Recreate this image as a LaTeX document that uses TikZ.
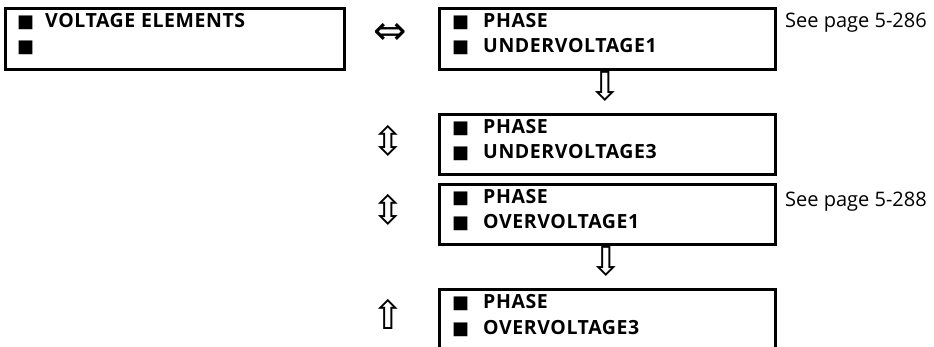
\documentclass[tikz,border=0pt]{standalone}
\usepackage{fontspec}
\setmainfont{Open Sans}
\newfontfamily\menufont[LetterSpace=3]{Open Sans}
\newfontfamily\symfont{DejaVu Sans}
\tikzset{
  menubox/.style={draw, line width=2.6pt, inner sep=0pt, anchor=north west},
  menutext/.style={anchor=base west, inner sep=0pt, align=left,
    font={\menufont\bfseries\fontsize{19.5}{25}\selectfont}},
  sq/.style={anchor=base west, inner sep=0pt, align=left,
    font={\symfont\fontsize{18}{25}\selectfont}},
  arrowsym/.style={inner sep=0pt, font={\symfont\fontsize{40}{40}\selectfont}},
  pageref/.style={anchor=base west, inner sep=0pt, font={\fontsize{20}{24}\selectfont}}
}
\begin{document}
\begin{tikzpicture}[x=1pt,y=-1pt]
\useasboundingbox (0,0) rectangle (934,347);
\clip (0,0) rectangle (934,347);
% boxes
\node[menubox, minimum width=339pt, minimum height=61pt] (b1) at (4,7) {};
\node[menubox, minimum width=336pt, minimum height=61pt] (b2) at (438,7) {};
\node[menubox, minimum width=336pt, minimum height=60pt] (b3) at (438,113) {};
\node[menubox, minimum width=336pt, minimum height=60pt] (b4) at (438,183) {};
\node[menubox, minimum width=336pt, minimum height=80pt] (b5) at (438,288) {};
% squares (anchor is the baseline of the last line)
\node[sq] (s1) at (17,53) {■\\■};
\node[sq] (s2) at (452,53) {■\\■};
\node[sq] (s3) at (452,159) {■\\■};
\node[sq] (s4) at (452,229) {■\\■};
\node[sq] (s5) at (452,334) {■\\■};
% texts
\node[menutext] (t1) at (45,28) {VOLTAGE ELEMENTS};
\node[menutext] (t2) at (483,53) {PHASE\\UNDERVOLTAGE1};
\node[menutext] (t3) at (483,159) {PHASE\\UNDERVOLTAGE3};
\node[menutext] (t4) at (483,229) {PHASE\\OVERVOLTAGE1};
\node[menutext] (t5) at (483,334) {PHASE\\OVERVOLTAGE3};
% page refs
\node[pageref] (p1) at (785,28) {See page 5-286};
\node[pageref] (p2) at (785,207) {See page 5-288};
% navigation symbols
\node[arrowsym] (a1) at (390,34) {⇔};
\node[arrowsym] (a2) at (605,86) {⇩};
\node[arrowsym] (a3) at (388,141) {⇳};
\node[arrowsym] (a4) at (388,210) {⇳};
\node[arrowsym] (a5) at (606,261) {⇩};
\node[arrowsym] (a6) at (388,314) {⇧};
\end{tikzpicture}
\end{document}
